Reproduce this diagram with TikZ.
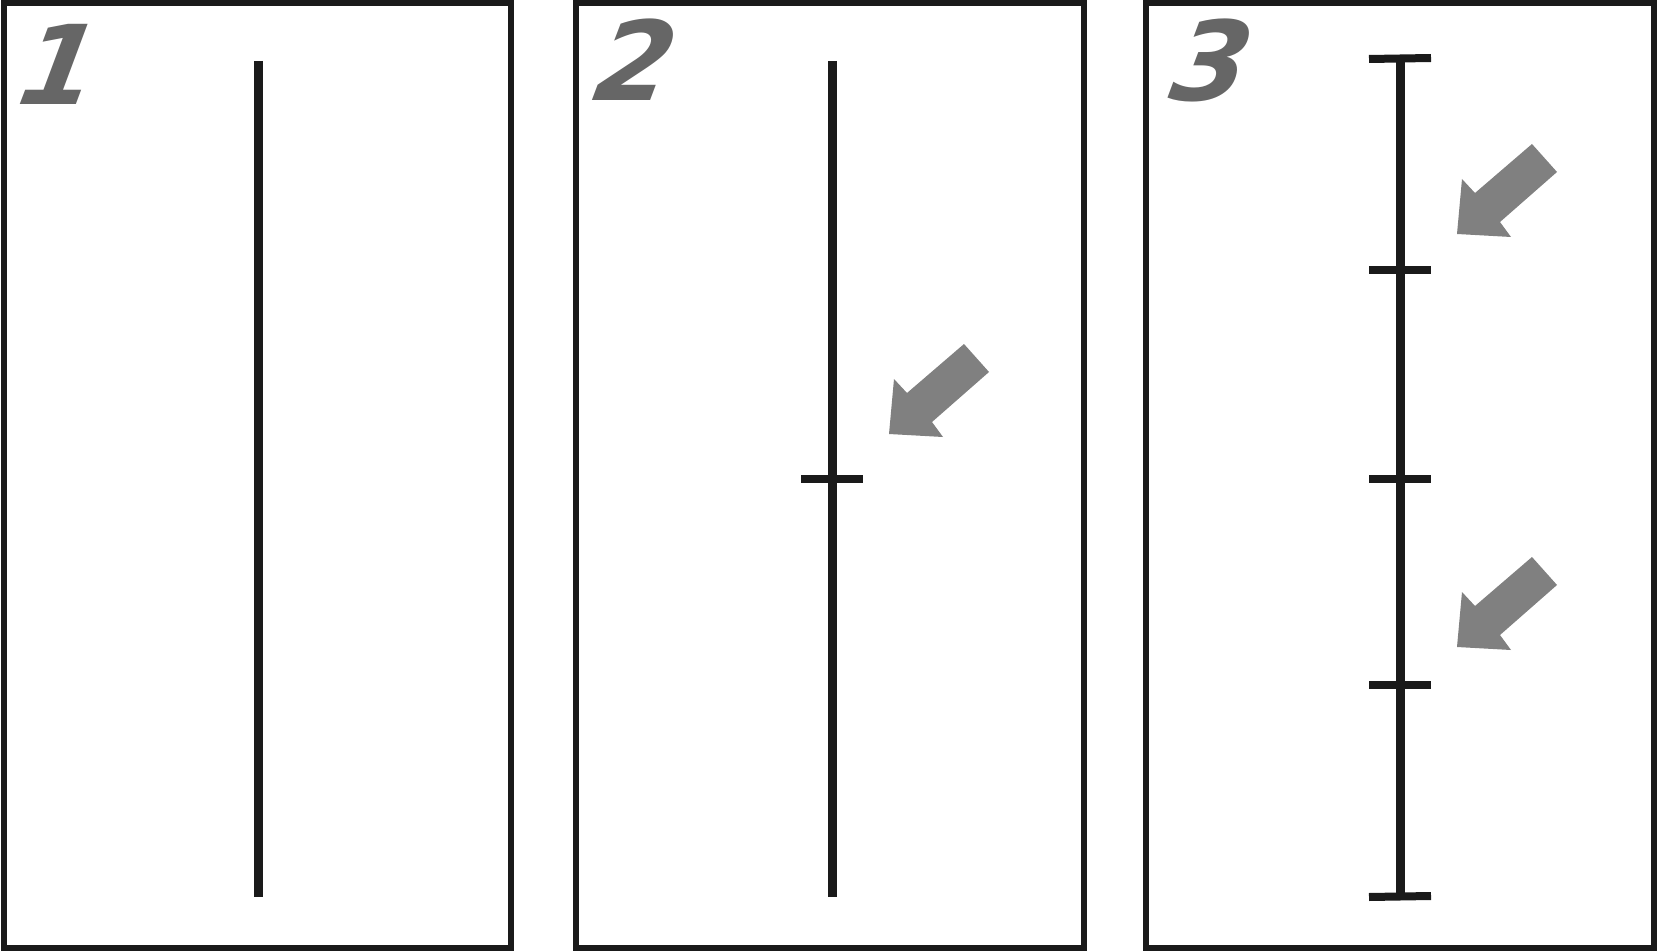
\documentclass[tikz,border=0pt]{standalone}
\usepackage{fontspec}
\usepackage{tikz}
\usetikzlibrary{arrows.meta}
\newfontfamily\digitfont{DejaVu Sans}

\definecolor{inkline}{RGB}{26,26,26}
\definecolor{digitgray}{RGB}{102,102,102}
\definecolor{pointergray}{RGB}{128,128,128}

\tikzset{
	frame/.style={draw=inkline, line width=6pt, fill=white},
	rod/.style={draw=inkline, line width=9pt},
	tickmark/.style={draw=inkline, line width=8pt},
	digit/.style={text=digitgray, inner sep=0pt, font=\digitfont\bfseries\itshape\fontsize{110}{110}\selectfont, xslant=0.18},
	pointer/.pic={
		\fill [pointergray] (0,0) -- (5,-55) -- (18,-41) -- (75,-90) -- (100,-62) -- (43,-12) -- (54,3) -- cycle;
	}
}

\begin{document}
\begin{tikzpicture}[x=1pt, y=-1pt]
	\useasboundingbox (0,0) rectangle (1658,952);
	
	\draw [frame] (4,3) rectangle (511,948);
	\draw [frame] (576,3) rectangle (1084,948);
	\draw [frame] (1146,3) rectangle (1654,948);
	
	\node [digit] (n1) at (61,64) {1};
	\node [digit] (n2) at (637,60) {2};
	\node [digit] (n3) at (1213,60) {3};
	
	\coordinate (a1) at (258,61);
	\coordinate (b1) at (258,897);
	\coordinate (a2) at (832,61);
	\coordinate (b2) at (832,897);
	\coordinate (a3) at (1400,59);
	\coordinate (b3) at (1400,896);
	
	\draw [rod] (a1) to (b1);
	\draw [rod] (a2) to (b2);
	\draw [rod] (a3) to (b3);
	
	\draw [tickmark] (801,479) to (863,479);
	
	\draw [tickmark] (1369,59) to (1431,58);
	\draw [tickmark] (1369,270) to (1431,270);
	\draw [tickmark] (1369,479) to (1431,479);
	\draw [tickmark] (1369,685) to (1431,685);
	\draw [tickmark] (1369,897) to (1431,896);
	
	\pic at (889,434) {pointer};
	\pic at (1457,234) {pointer};
	\pic at (1457,647) {pointer};
\end{tikzpicture}
\end{document}
